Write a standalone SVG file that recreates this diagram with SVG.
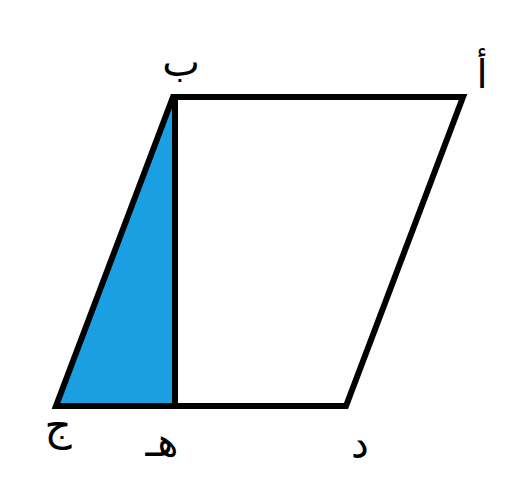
<svg xmlns="http://www.w3.org/2000/svg" width="528" height="496" viewBox="0 0 528 496">
<style>
.edge{fill:none;stroke:#000;stroke-width:6;stroke-linejoin:miter}
.lbl{font-family:"DejaVu Sans",sans-serif;font-size:40px;fill:#000;text-anchor:middle}
</style>
<rect width="528" height="496" fill="#fff"/>
<g id="shaded-triangle">
<polygon points="173,97 56,406 175,406" fill="#1a9fe3"/>
</g>
<g id="connectors">
<polygon class="edge" points="173,97 463,97 346,406 56,406"/>
<line class="edge" x1="175" y1="97" x2="175" y2="406"/>
</g>
<g id="node-b"><text class="lbl" x="181" y="76">ب</text></g>
<g id="node-a"><text class="lbl" x="482" y="88">أ</text></g>
<g id="node-j"><text class="lbl" x="58" y="440" style="font-size:42px">ج</text></g>
<g id="node-h"><text class="lbl" x="162" y="456">هـ</text></g>
<g id="node-d"><text class="lbl" x="360" y="458">د</text></g>
</svg>
